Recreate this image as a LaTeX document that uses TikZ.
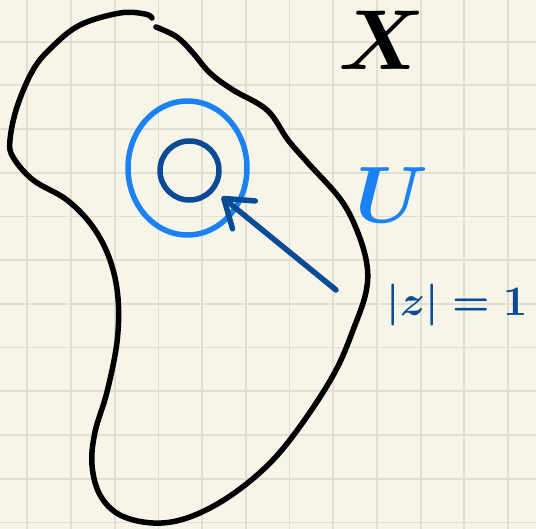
\documentclass[tikz,border=0pt]{standalone}
\usepackage{tikz}
\usetikzlibrary{arrows.meta}
\definecolor{paper}{HTML}{F7F5EA}
\definecolor{gridgray}{HTML}{E1DFD3}
\definecolor{lightblue}{HTML}{1A82F2}
\definecolor{darkblue}{HTML}{0B4A94}
\tikzset{
	inkline/.style={line width=5.5pt, line cap=round, line join=round}
}
\tikzset{
	bigtext/.style={scale=#1, inner sep=0pt, font=\boldmath}
}

\begin{document}
\begin{tikzpicture}[x=1pt, y=-1pt]
      \useasboundingbox (0,0) rectangle (536,529);
      \fill[paper] (0,0) rectangle (536,529);
      \foreach \i in {0,...,11} {
        \draw[gridgray, line width=1.8pt] ({27.3+43.7*\i},0) -- ({27.3+43.7*\i},529);
        \draw[gridgray, line width=1.8pt] (0,{41.7+43.7*\i}) -- (536,{41.7+43.7*\i});
      }
      % the space X
      \draw[inkline] plot[smooth, tension=0.6] coordinates {
        (156,27) (177,37) (193,53) (210,73) (233,90) (267,110) (288,140)
        (308,163) (341,200) (358,233) (367,265) (366,292) (355,325) (335,372)
        (301,425) (268,465) (227,498) (187,518) (153,523) (120,515) (100,495)
        (92,465) (95,432) (107,392) (117,342) (118,298) (110,260) (93,227)
        (67,200) (33,180) (13,157) (10,140) (17,107) (33,70) (52,47) (80,25)
        (120,13) (145,14) (152,18)};
      % U and the circle
      \draw[inkline, lightblue] (187.5,168) ellipse [x radius=59.5, y radius=67];
      \node[circle, draw=darkblue, inkline, minimum size=59pt, inner sep=0pt, outer sep=12pt] (disc) at (189.5,170.5) {};
      \node[bigtext=8.5] (X) at (382,40) {$X$};
      \node[bigtext=8, text=lightblue] (U) at (392,195) {$U$};
      \node[bigtext=4.2, text=darkblue] (zlabel) at (457,305) {$|z|=1$};
      \coordinate (tail) at (336,290);
      \draw[inkline, darkblue, -{Straight Barb[length=26pt, width=36pt, round]}] (tail) -- (disc);
    \end{tikzpicture}
\end{document}
